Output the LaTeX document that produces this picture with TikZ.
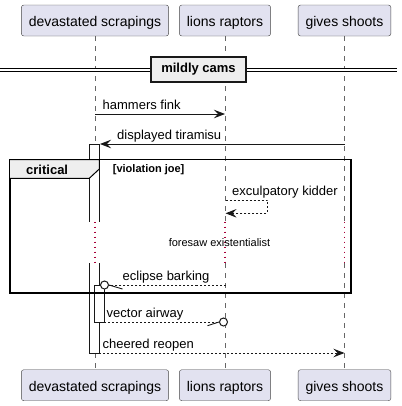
\documentclass[tikz,border=0pt]{standalone}
\usepackage{fontspec}
\setmainfont{Liberation Sans}
\usetikzlibrary{arrows.meta}
\definecolor{partfill}{RGB}{226,226,240}
\definecolor{groupfill}{RGB}{238,238,238}
\definecolor{delayred}{RGB}{168,0,54}
\definecolor{inkgray}{RGB}{24,24,24}
\tikzset{
  partbox/.style={draw=inkgray!80, fill=partfill, rounded corners=2.5bp, inner xsep=7.5bp,
    minimum height=31bp, text height=12bp, text depth=0bp, font=\fontsize{14bp}{16bp}\selectfont},
  lifeline/.style={draw=black!60, line width=0.6bp, dash pattern=on 5bp off 5bp},
  delayline/.style={draw=delayred, line width=1.4bp, dash pattern=on 1.4bp off 3.6bp},
  msg/.style={draw=inkgray, line width=0.9bp, -{Stealth[length=11bp,width=8.5bp,inset=4bp]}},
  reply/.style={msg, dash pattern=on 2bp off 2bp},
  msglabel/.style={anchor=base west, inner sep=0pt, font=\fontsize{13bp}{15bp}\selectfont},
  actbar/.style={draw=inkgray, fill=white, line width=0.9bp},
  endball/.style={circle, draw=inkgray, fill=white, line width=1bp, minimum size=8bp, inner sep=0pt},
  divbox/.style={draw=black!90, fill=groupfill, line width=1.8bp, minimum width=95bp, minimum height=25bp,
    font=\bfseries\fontsize{13bp}{15bp}\selectfont},
}
\begin{document}
\begin{tikzpicture}[x=1bp,y=-1bp]
\useasboundingbox (0,0) rectangle (402,406);
% participants
\node[partbox] (dsTop) at (95,20.5) {devastated scrapings};
\node[partbox] (lrTop) at (225,20.5) {lions raptors};
\node[partbox] (gsTop) at (344.5,20.5) {gives shoots};
\node[partbox] (dsBot) at (95,385.2) {devastated scrapings};
\node[partbox] (lrBot) at (225,385.2) {lions raptors};
\node[partbox] (gsBot) at (344.5,385.2) {gives shoots};
% lifelines, broken by the delay
\coordinate (gapTop) at (0,221.5);
\coordinate (gapBot) at (0,263);
\foreach \p in {ds,lr,gs}{
  \draw[lifeline] (\p Top.south) -- (\p Top.south |- gapTop);
  \draw[delayline] (\p Top.south |- gapTop) -- (\p Top.south |- gapBot);
  \draw[lifeline] (\p Top.south |- gapBot) -- (\p Bot.north);
}
% divider
\coordinate (divL) at (0,69.7);
\coordinate (divR) at (397,69.7);
\draw[double, double distance=1.7bp, line width=1bp] (divL) -- (divR);
\node[divbox] (cams) at (198.5,69.3) {mildly cams};
% activations
\draw[actbar] (89.3,221.5) -- (89.3,144) -- (99.3,144) -- (99.3,221.5);
\draw[actbar] (89.3,263) -- (89.3,353) -- (99.3,353) -- (99.3,263);
\draw[actbar] (94.3,285) rectangle (104.3,322);
% critical group
\draw[line width=1.5bp] (10,159.5) rectangle (351,293);
\draw[line width=1bp, fill=groupfill] (10,159.5) -- (99.3,159.5) -- (99.3,169) -- (89.3,178.3) -- (10,178.3);
\node[anchor=base west, inner sep=0pt, font=\bfseries\fontsize{13bp}{15bp}\selectfont] (critTag) at (26,174) {critical};
\node[anchor=base west, inner sep=0pt, font=\bfseries\fontsize{11bp}{13bp}\selectfont] (guardTxt) at (112.7,172) {[violation joe]};
% messages
\coordinate (hfA) at (95,114);
\coordinate (hfB) at (225,114);
\draw[msg] (hfA) -- (hfB);
\node[msglabel] (hfTxt) at (102.5,109) {hammers fink};
\coordinate (dtA) at (344.5,144);
\coordinate (dtB) at (100,144);
\draw[msg] (dtA) -- (dtB);
\node[msglabel] (dtTxt) at (117,139) {displayed tiramisu};
\coordinate (ekA) at (225.5,200.3);
\coordinate (ekB) at (225.5,213.3);
\draw[reply] (ekA) -- ++(42,0) |- (ekB);
\node[msglabel] (ekTxt) at (232,195.5) {exculpatory kidder};
\node[anchor=base, inner sep=0pt, font=\fontsize{11bp}{13bp}\selectfont] (delayTxt) at (219.5,246.5) {foresaw existentialist};
\coordinate (ebA) at (225.5,285);
\node[endball] (ebDot) at (104.5,285) {};
\draw[reply, -] (ebA) -- (ebDot.east);
\draw[draw=inkgray, line width=0.9bp] (ebDot.east) -- ++(13.5,4);
\node[msglabel] (ebTxt) at (122.5,280) {eclipse barking};
\coordinate (vaA) at (104.3,322);
\node[endball] (vaDot) at (223.5,322) {};
\draw[reply, -] (vaA) -- (vaDot.west);
\draw[draw=inkgray, line width=0.9bp] (vaDot.west) -- ++(-11.5,3.7);
\node[msglabel] (vaTxt) at (106.5,317) {vector airway};
\coordinate (crA) at (99.3,353);
\coordinate (crB) at (344.5,353);
\draw[reply] (crA) -- (crB);
\node[msglabel] (crTxt) at (102.5,348) {cheered reopen};
\end{tikzpicture}
\end{document}
